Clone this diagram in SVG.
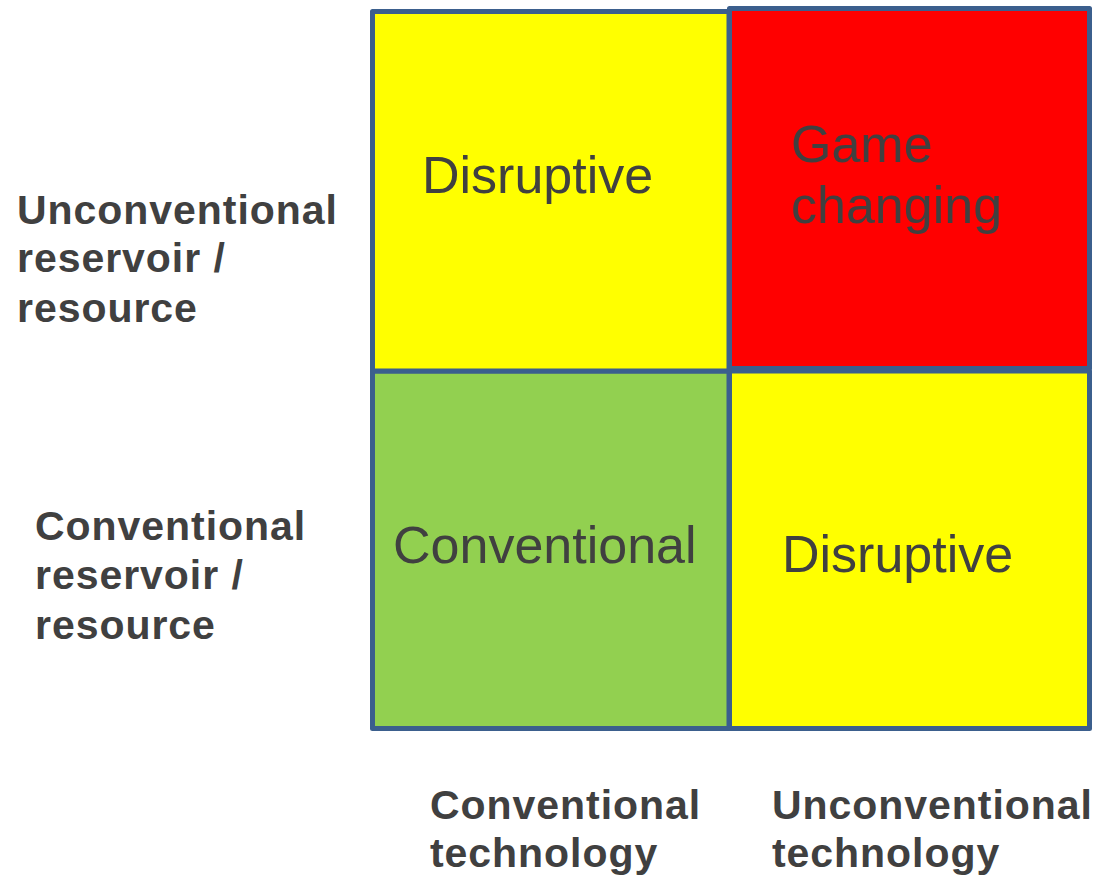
<svg xmlns="http://www.w3.org/2000/svg" width="1093" height="877" viewBox="0 0 1093 877">
<style>
.cell{stroke:#3B5F8D;stroke-width:5;stroke-linejoin:round}
.big{font-family:"Liberation Sans",Arial,sans-serif;font-size:52px;fill:#404040}
.lab{font-family:"Liberation Sans",Arial,sans-serif;font-size:41px;font-weight:bold;fill:#404040;letter-spacing:0.95px}
</style>
<rect width="1093" height="877" fill="#ffffff"/>
<g id="cell-bl">
<rect class="cell" x="372.5" y="371" width="356.5" height="357.5" fill="#92D050"/>
<text class="big" x="393" y="563">Conventional</text>
</g>
<g id="cell-br">
<rect class="cell" x="729.5" y="371" width="360" height="357.5" fill="#FFFF00"/>
<text class="big" x="782" y="572">Disruptive</text>
</g>
<g id="cell-tl">
<rect class="cell" x="372.5" y="11.5" width="356.5" height="359.5" fill="#FFFF00"/>
<text class="big" x="422" y="193">Disruptive</text>
</g>
<g id="cell-tr">
<rect class="cell" x="729.5" y="8.5" width="360" height="360" fill="#FF0000"/>
<text class="big" x="791" y="162">Game</text>
<text class="big" x="791" y="223">changing</text>
</g>
<g id="row-labels">
<text class="lab" x="17" y="224">Unconventional</text>
<text class="lab" x="17" y="272">reservoir /</text>
<text class="lab" x="17" y="322">resource</text>
<text class="lab" x="35" y="540">Conventional</text>
<text class="lab" x="35" y="589">reservoir /</text>
<text class="lab" x="35" y="639">resource</text>
</g>
<g id="col-labels">
<text class="lab" x="430" y="819">Conventional</text>
<text class="lab" x="430" y="867">technology</text>
<text class="lab" x="772" y="819">Unconventional</text>
<text class="lab" x="772" y="867">technology</text>
</g>
<g id="connectors"></g>
</svg>
